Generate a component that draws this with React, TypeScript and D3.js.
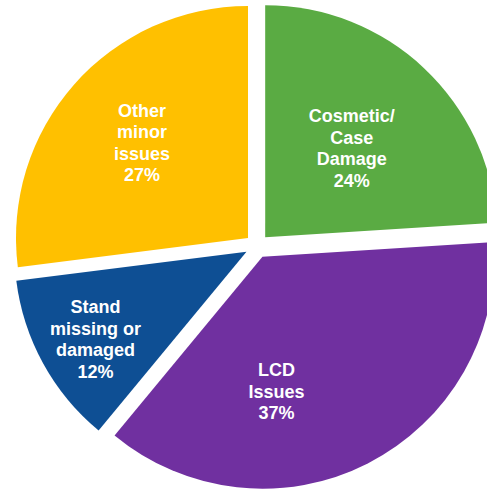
import React from "react";
import * as d3 from "d3";

const categories = ["Cosmetic/\nCase\nDamage", "LCD\nIssues", "Stand\nmissing or\ndamaged", "Other\nminor\nissues"];
const values = [24, 37, 12, 27];
const colors = ["#5AAB43", "#7030A0", "#0E4F94", "#FFC000"];
// label placement (fraction of radius, angle shift in degrees)
const labelRadius = [0.535, 0.583, 0.752, 0.615];
const labelShift = [1, 21, -1.3, 0.6];

const W = 487;
const H = 489;
const cx = 257;
const cy = 246;
const R = 232;
const explode = 12;
const fontSize = 18;
const lineH = 21.6;

export default function App() {
  const pie = d3.pie<number>().sort(null).value((d) => d)(values);
  const arc = d3.arc<d3.PieArcDatum<number>>().innerRadius(0).outerRadius(R);
  const total = d3.sum(values);

  return (
    <svg width={W} height={H} style={{ position: "absolute", left: 0, top: 0, background: "#fff" }}>
      {pie.map((p, i) => {
        const mid = (p.startAngle + p.endAngle) / 2;
        const ox = cx + Math.sin(mid) * explode;
        const oy = cy - Math.cos(mid) * explode;
        const la = mid + (labelShift[i] * Math.PI) / 180;
        const lr = labelRadius[i] * R;
        const lx = Math.sin(la) * lr;
        const ly = -Math.cos(la) * lr;
        const lines = [...categories[i].split("\n"), `${Math.round((values[i] / total) * 100)}%`];
        const y0 = ly - ((lines.length - 1) * lineH) / 2;
        return (
          <g key={i} transform={`translate(${ox},${oy})`}>
            <path d={arc(p) || ""} fill={colors[i]} />
            <text
              textAnchor="middle"
              fontFamily="'Liberation Sans', Arial, sans-serif"
              fontWeight="bold"
              fontSize={fontSize}
              fill="#fff"
            >
              {lines.map((t, j) => (
                <tspan key={j} x={lx} y={y0 + j * lineH} dy="0.35em">
                  {t}
                </tspan>
              ))}
            </text>
          </g>
        );
      })}
    </svg>
  );
}
